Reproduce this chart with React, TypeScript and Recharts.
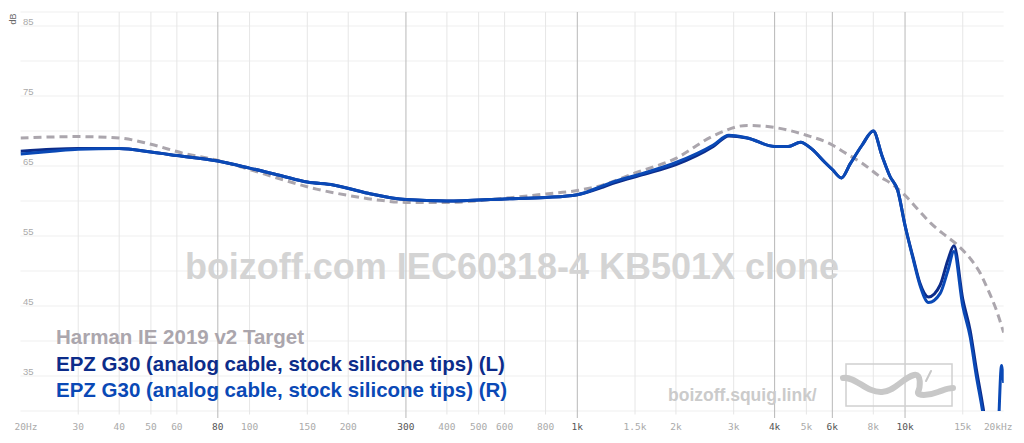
import React from "react";
import {
  LineChart,
  Line,
  XAxis,
  YAxis,
  CartesianGrid,
  ReferenceLine,
} from "recharts";

// Harman IE 2019 v2 target
const harmanFreq = [20, 30, 40, 50, 63, 80, 100, 125, 160, 200, 250, 300, 400, 600, 800, 1000, 1200, 1500, 2000, 2600, 3300, 4000, 5000, 6000, 6500, 7400, 8500, 9000, 10000, 11000, 12000, 13000, 14300, 15800, 17000, 17800, 19000, 20000];
const harmanDb = [69.0, 69.2, 69.0, 68.1, 66.8, 65.8, 64.5, 63.1, 61.7, 60.8, 60.1, 59.8, 59.8, 60.4, 61.0, 61.5, 62.3, 64.0, 66.1, 69.3, 70.8, 70.5, 69.4, 68.0, 67.0, 65.4, 63.3, 62.6, 60.8, 58.7, 56.8, 55.4, 53.9, 51.8, 49.6, 47.6, 44.4, 41.2];

// EPZ G30 measurements, L and R
const phoneFreq = [20, 25, 30, 40, 50, 60, 80, 100, 125, 150, 180, 230, 300, 400, 600, 800, 1000, 1200, 1300, 1600, 2000, 2600, 2900, 3300, 4000, 4400, 4800, 5200, 5700, 6000, 6400, 6800, 7400, 8000, 8500, 9000, 9500, 10000, 10600, 11100, 11800, 12800, 13500, 14100, 15000, 15800, 16500, 17300, 18000, 18600, 19200, 19700, 20000];
const leftDb = [67.1, 67.4, 67.5, 67.5, 67.0, 66.5, 65.7, 64.7, 63.6, 62.7, 62.3, 61.1, 60.2, 60.0, 60.3, 60.5, 60.9, 62.0, 62.6, 63.8, 65.2, 67.8, 69.3, 69.0, 67.8, 67.8, 68.4, 67.4, 65.5, 64.5, 63.3, 65.3, 68.0, 70.0, 66.5, 63.5, 61.5, 56.5, 51.8, 48.3, 46.3, 48.0, 51.5, 53.6, 46.0, 41.5, 36.0, 30.5, 25.0, 21.0, 20.0, 24.0, 28.0];
const rightDb = [66.7, 67.1, 67.4, 67.5, 67.0, 66.5, 65.7, 64.7, 63.6, 62.7, 62.3, 61.1, 60.2, 60.0, 60.3, 60.5, 60.9, 62.2, 62.8, 64.0, 65.5, 68.0, 69.4, 69.0, 67.8, 67.8, 68.4, 67.4, 65.5, 64.5, 63.3, 65.3, 68.0, 70.0, 66.5, 63.5, 61.5, 56.5, 51.6, 48.0, 45.5, 46.8, 50.0, 52.8, 45.0, 40.6, 35.0, 29.5, 23.0, 20.0, 26.0, 36.5, 34.0];

const xTicks = [20, 30, 40, 50, 60, 80, 100, 150, 200, 300, 400, 500, 600, 800, 1000, 1500, 2000, 3000, 4000, 5000, 6000, 8000, 10000, 15000, 20000];
const xTickLabels = ["20Hz", "30", "40", "50", "60", "80", "100", "150", "200", "300", "400", "500", "600", "800", "1k", "1.5k", "2k", "3k", "4k", "5k", "6k", "8k", "10k", "15k", "20kHz"];
const majorFreqs = [80, 300, 1000, 4000, 6000, 10000];
const yTicks = [30, 35, 40, 45, 50, 55, 60, 65, 70, 75, 80, 85];

const HARMAN = "#aba6ad";
const LEFT = "#0c2c8a";
const RIGHT = "#0a49b6";

const toRows = (fs: number[], vs: number[]) => fs.map((f, i) => ({ f, v: vs[i] }));

function XTick({ x, payload }: any) {
  const i = xTicks.indexOf(payload.value);
  const major = majorFreqs.includes(payload.value);
  const dx = i === 0 ? 5.5 : i === xTicks.length - 1 ? -5.5 : 0;
  return (
    <text
      x={x + dx}
      y={430}
      textAnchor="middle"
      fontFamily="DejaVu Sans Mono"
      fontSize={9.5}
      fill={major ? "#555" : "#aaa"}
    >
      {xTickLabels[i]}
    </text>
  );
}

function YTick({ y, payload }: any) {
  if (payload.value % 10 !== 5) return <g />;
  return (
    <text x={23} y={y - 1.5} textAnchor="start" fontFamily="Liberation Sans" fontSize={9.5} fill="#aaa">
      {payload.value}
    </text>
  );
}

export default function App() {
  return (
    <div style={{ position: "absolute", left: 0, top: 0, width: 1024, height: 443, background: "#fff" }}>
      <LineChart width={1024} height={443} margin={{ top: 12, right: 20.3, left: 19.5, bottom: 0 }}>
        <CartesianGrid horizontal vertical={false} stroke="#efefef" />
        {xTicks.slice(1, -1).map((f) => {
          const major = majorFreqs.includes(f);
          return (
            <ReferenceLine
              key={f}
              segment={[
                { x: f, y: major ? 29 : 29.5 },
                { x: f, y: 87 },
              ]}
              ifOverflow="visible"
              stroke={major ? "#b8b8b8" : "#e6e6e6"}
              strokeWidth={1}
            />
          );
        })}
        <XAxis
          dataKey="f"
          type="number"
          scale="log"
          domain={[20, 20000]}
          ticks={xTicks}
          tick={<XTick />}
          interval={0}
          axisLine={false}
          tickLine={false}
          height={32}
          allowDataOverflow
        />
        <YAxis
          type="number"
          domain={[30, 87]}
          ticks={yTicks}
          tick={<YTick />}
          interval={0}
          axisLine={false}
          tickLine={false}
          width={1}
          allowDataOverflow
        />
        <Line
          data={toRows(harmanFreq, harmanDb)}
          dataKey="v"
          type="monotone"
          stroke={HARMAN}
          strokeWidth={3}
          strokeDasharray="8 5"
          dot={false}
          isAnimationActive={false}
        />
        <Line
          data={toRows(phoneFreq, leftDb)}
          dataKey="v"
          type="monotone"
          stroke={LEFT}
          strokeWidth={3}
          dot={false}
          isAnimationActive={false}
        />
        <Line
          data={toRows(phoneFreq, rightDb)}
          dataKey="v"
          type="monotone"
          stroke={RIGHT}
          strokeWidth={3}
          dot={false}
          isAnimationActive={false}
        />
      </LineChart>
      <svg
        width={1024}
        height={443}
        style={{ position: "absolute", left: 0, top: 0, pointerEvents: "none" }}
        fontFamily="Liberation Sans, Arial, sans-serif"
      >
        <text transform="translate(16,19) rotate(-90)" textAnchor="middle" fontSize={9} fill="#666">
          dB
        </text>
        <text x={512} y={279} textAnchor="middle" fontSize={36} fontWeight="bold" fill="#d4d4d4">
          boizoff.com IEC60318-4 KB501X clone
        </text>
        <text x={56} y={344} fontSize={20.5} fontWeight="bold" fill={HARMAN}>
          Harman IE 2019 v2 Target
        </text>
        <text x={56} y={370.5} fontSize={20.5} fontWeight="bold" fill={LEFT}>
          EPZ G30 (analog cable, stock silicone tips) (L)
        </text>
        <text x={56} y={397} fontSize={20.5} fontWeight="bold" fill={RIGHT}>
          EPZ G30 (analog cable, stock silicone tips) (R)
        </text>
        <text x={668} y={401} fontSize={17.5} fontWeight="bold" fill="#cbcbcb">
          boizoff.squig.link/
        </text>
        <rect x={846} y={364} width={106} height={42} fill="none" stroke="#d0d0d0" strokeWidth={1.5} />
        <path
          d="M843 378 C856 376 866 393 882 392 C896 391 902 378 914 375 C922 373 920 388 918 392 C917 396 928 396 938 392 C944 390 948 388 953 388"
          fill="none"
          stroke="#c8c8c8"
          strokeWidth={6}
          strokeLinecap="round"
        />
        <path d="M931 371 L926 381" fill="none" stroke="#c8c8c8" strokeWidth={2} strokeLinecap="round" />
      </svg>
    </div>
  );
}
